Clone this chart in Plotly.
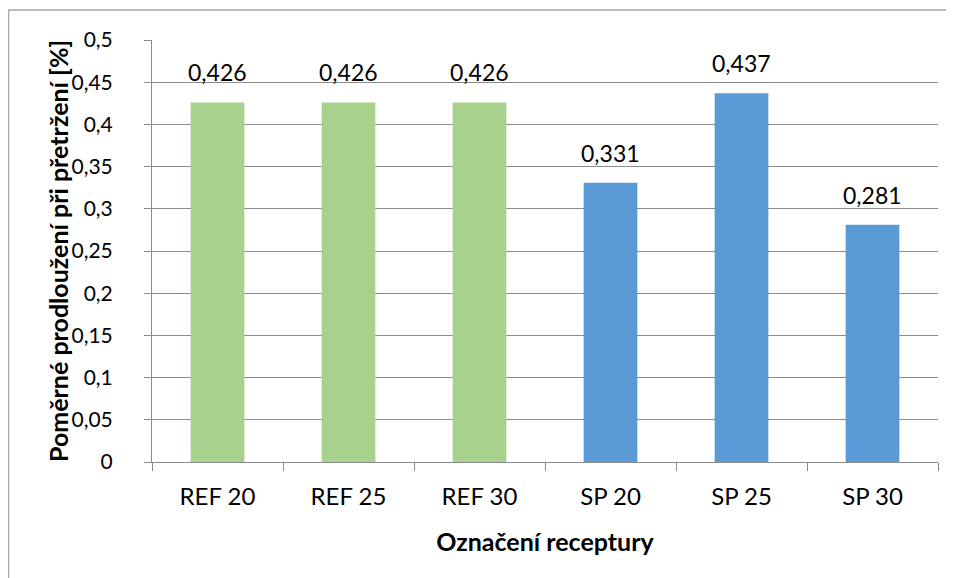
import plotly.graph_objects as go

categories = ["REF 20", "REF 25", "REF 30", "SP 20", "SP 25", "SP 30"]
values = [0.426, 0.426, 0.426, 0.331, 0.437, 0.281]
bar_colors = ["#A9D18E", "#A9D18E", "#A9D18E", "#5B9BD5", "#5B9BD5", "#5B9BD5"]
y_title = "Poměrné prodloužení při přetržení [%]"
x_title = "Označení receptury"

FONT = "Lato, Open Sans, sans-serif"
GRID = "#8C8C8C"

# page body has an 8px default margin: figure is offset by 8px
W, H = 946, 570
L, T, R, B = 144, 32, 16, 116
PW, PH = W - L - R, H - T - B

fig = go.Figure()
fig.add_trace(go.Bar(
    x=categories, y=values, marker=dict(color=bar_colors, line=dict(width=0)),
    hoverinfo="x+y",
))

for c, v in zip(categories, values):
    fig.add_annotation(
        x=c, y=v, text=f"{v:.3f}".replace(".", ","), showarrow=False,
        yanchor="bottom", yshift=14, font=dict(family=FONT, size=23, color="black"),
    )

# y-axis title
fig.add_annotation(
    xref="paper", yref="paper", x=(50 - L) / PW, y=0.5, xanchor="center", yanchor="middle",
    text="<b>" + y_title + "</b>", textangle=-90, showarrow=False,
    font=dict(family=FONT, size=25, color="black"),
)

fig.update_layout(
    width=W, height=H,
    margin=dict(l=L, r=R, t=T, b=B),
    paper_bgcolor="white", plot_bgcolor="white",
    separators=",.",
    bargap=0.59,
    showlegend=False,
    font=dict(family=FONT, size=22, color="black"),
    xaxis=dict(
        title=dict(text="<b>" + x_title + "</b>", font=dict(family=FONT, size=25), standoff=24),
        automargin=False,
        showline=True, linecolor=GRID, linewidth=1,
        ticks="outside", ticklen=8, tickcolor=GRID, tickson="boundaries",
        tickfont=dict(family=FONT, size=24), ticklabelstandoff=13,
        showgrid=False,
    ),
    yaxis=dict(
        automargin=False,
        range=[0, 0.5], dtick=0.05, tick0=0,
        showline=True, linecolor=GRID, linewidth=1,
        ticks="outside", ticklen=7, tickcolor=GRID,
        showgrid=True, gridcolor=GRID, gridwidth=1,
        zeroline=False,
        tickfont=dict(family=FONT, size=21), ticklabelstandoff=27,
    ),
)

# outer chart border (left, top, right; bottom cut off as in reference)
fig.add_shape(type="rect", xref="paper", yref="paper",
              x0=(0.5 - L) / PW, x1=(945 - L) / PW,
              y0=-(B + 20) / PH, y1=(PH + T - 2) / PH,
              line=dict(color="#A6A6A6", width=1.5), fillcolor="rgba(0,0,0,0)", layer="below")

fig.write_html("out.html")
